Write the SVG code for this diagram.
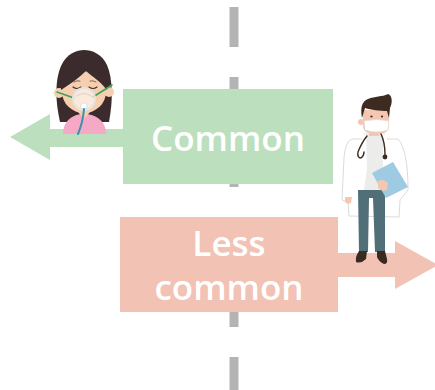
<svg xmlns="http://www.w3.org/2000/svg" width="435" height="390" viewBox="0 0 435 390">
  <style>
    .label { font-family: "Open Sans", "Noto Sans", "Liberation Sans", sans-serif; font-weight: 600; font-size: 35px; fill: #ffffff; text-anchor: middle; }
    .green { fill: #bcdfbe; }
    .pink { fill: #f2c2b4; }
    .divider { stroke: #b4b4b4; stroke-width: 9; stroke-dasharray: 40 30; }
    .ink { fill: none; stroke-linecap: round; stroke-linejoin: round; }
  </style>

  <!-- dashed divider -->
  <g id="divider">
    <line class="divider" x1="234" y1="7" x2="234" y2="395"/>
  </g>

  <!-- arrows leaving each box -->
  <g id="connectors">
    <polygon class="green" points="124,129 50,129 50,114 10,137 50,160 50,147 124,147"/>
    <polygon class="pink" points="336,253 395,253 395,241 438,265 395,289 395,277 336,277"/>
  </g>

  <g id="node-common">
    <rect class="green" x="123" y="89" width="210" height="95"/>
    <text class="label" x="228" y="151">Common</text>
  </g>

  <g id="node-less-common">
    <rect class="pink" x="120" y="217" width="218" height="95"/>
    <text class="label" x="229" y="256">Less</text>
    <text class="label" x="229" y="300">common</text>
  </g>

  <!-- patient wearing an oxygen mask -->
  <g id="patient">
    <path d="M60,122 C55,100 55,80 61,66 C67,53 77,50 84,50 C92,50 102,54 107,65 C113,79 113,101 109,122 Z" fill="#3b2b2c"/>
    <path d="M63,134 C63,121 72,114 84,114 C96,114 106,121 106,134 Z" fill="#f5a9c7"/>
    <path d="M78,112 L84,119 L90,112 Z" fill="#f6cfb0"/>
    <circle cx="59" cy="93" r="5" fill="#f6cfb0"/>
    <circle cx="109" cy="92" r="5" fill="#f6cfb0"/>
    <ellipse cx="84" cy="92" rx="22" ry="21" fill="#f6cfb0"/>
    <path d="M61,90 C61,70 71,61 84,61 C97,61 107,70 107,90 C101,82 93,77 86,71 C79,78 70,84 61,90 Z" fill="#3b2b2c"/>
    <path class="ink" d="M73,87 Q77,90 81,87" stroke="#4a3330" stroke-width="1.2"/>
    <path class="ink" d="M89,87 Q93,90 97,87" stroke="#4a3330" stroke-width="1.2"/>
    <path class="ink" d="M74,82 Q77,80 80,81" stroke="#6b4a40" stroke-width="0.8"/>
    <path class="ink" d="M90,81 Q93,80 96,82" stroke="#6b4a40" stroke-width="0.8"/>
    <path class="ink" d="M57,92 L74,98" stroke="#3aa15f" stroke-width="1.6"/>
    <path class="ink" d="M112,85 L93,97" stroke="#3aa15f" stroke-width="1.6"/>
    <ellipse cx="84" cy="99" rx="11" ry="11" fill="#ffffff" fill-opacity="0.55" stroke="#e6e3df" stroke-width="2"/>
    <path class="ink" d="M77,96 Q84,91 91,96" stroke="#e0d8d2" stroke-width="1.5"/>
    <circle cx="84" cy="106" r="3.2" fill="#ffffff" stroke="#cfe6ee" stroke-width="1"/>
    <path class="ink" d="M84,109 Q83,122 78,134" stroke="#3c8fad" stroke-width="2"/>
  </g>

  <!-- doctor holding a clipboard -->
  <g id="doctor">
    <path d="M352,139 Q345,142 344,158 L342,200 L348,202 L349,216 L399,217 L400,200 L408,190 Q408,150 398,139 Z" fill="#ffffff" stroke="#d2d2d2" stroke-width="0.8"/>
    <rect x="364" y="133" width="21" height="60" fill="#ececea"/>
    <path d="M362,139 L366,133 L367,170 L363,195 Z" fill="#ffffff"/>
    <path d="M387,139 L383,133 L383,170 L387,195 Z" fill="#ffffff"/>
    <path d="M358,190 L385,190 L385,252 L375,252 L373,198 L369,198 L368,252 L359,252 Z" fill="#516f79"/>
    <path d="M359,251 L367,251 L366,259 Q361,264 356,262 Q355,257 359,251 Z" fill="#3a2a1f"/>
    <path d="M377,251 L385,251 L387,259 Q388,264 384,264 Q379,262 377,257 Z" fill="#3a2a1f"/>
    <path d="M345,197 L352,197 L351,203 Q347,205 345,202 Z" fill="#f4c8b0"/>
    <polygon points="372,173 393,162 408,187 386,198" fill="#9ecbe1"/>
    <path d="M378,181 Q384,178 388,183 L387,190 Q381,192 378,188 Z" fill="#f4c8b0"/>
    <rect x="369" y="127" width="10" height="9" fill="#f4c8b0"/>
    <circle cx="361" cy="122" r="3" fill="#f4c8b0"/>
    <path d="M363,110 L389,110 L389,126 Q389,134 376,134 Q363,134 363,126 Z" fill="#f4c8b0"/>
    <path d="M362,118 C360,108 362,101 368,99 C375,96 382,97 388,94 C392,95 393,102 390,108 L389,118 L387,111 C380,111 371,110 365,108 Z" fill="#3d2b21"/>
    <circle cx="371.5" cy="116.5" r="1.1" fill="#3d2b21"/>
    <circle cx="382" cy="116.5" r="1.1" fill="#3d2b21"/>
    <path d="M364,121 Q376,118 389,121 L388,130 Q376,134 365,130 Z" fill="#ffffff" stroke="#d8d8d8" stroke-width="0.6"/>
    <path class="ink" d="M367,136 Q362,142 358,152 Q357,158 361,158 Q364,156 364,152" stroke="#3a2a20" stroke-width="1.4"/>
    <path class="ink" d="M381,134 Q385,142 385,155" stroke="#3a2a20" stroke-width="1.4"/>
    <circle cx="385" cy="157" r="2.4" fill="#3a2a20"/>
  </g>
</svg>
